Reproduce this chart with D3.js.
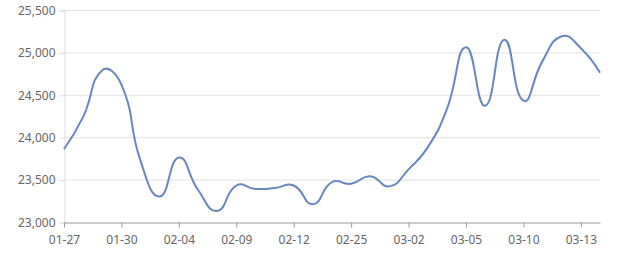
<!DOCTYPE html>
<html>
<head>
<meta charset="utf-8">
<script src="https://cdn.jsdelivr.net/npm/d3@7"></script>
<style>
  body { margin: 0; background: #fff; }
  text { font-family: "Noto Sans", "DejaVu Sans", sans-serif; }
</style>
</head>
<body>
<svg id="chart" width="640" height="270"></svg>
<script>
// dates (every third one is labelled)
var dates = ["01-27", "01-28", "01-29", "01-30", "02-01", "02-03", "02-04", "02-05", "02-08",
    "02-09", "02-10", "02-11", "02-12", "02-22", "02-23", "02-25", "02-26", "02-27",
    "03-02", "03-03", "03-04", "03-05", "03-06", "03-08", "03-10", "03-11", "03-12",
    "03-13", "03-14"];
// price values
var prices = [23860, 24240, 24790, 24620, 23720, 23300, 23760, 23380, 23130,
    23430, 23390, 23400, 23430, 23210, 23470, 23450, 23540, 23420,
    23620, 23880, 24330, 25060, 24370, 25150, 24430, 24900, 25190,
    25050, 24760];
var yTicks = [23000, 23500, 24000, 24500, 25000, 25500];

var margin = {top: 10, right: 40, bottom: 48, left: 64};
var width = 640, height = 270;

var svg = d3.select("#chart");

var x = d3.scalePoint()
    .domain(dates)
    .range([margin.left, width - margin.right]);

var y = d3.scaleLinear()
    .domain([23000, 25500])
    .range([height - margin.bottom, margin.top]);

// grid lines
svg.append("g")
    .selectAll("line")
    .data(yTicks.slice(1))
    .enter().append("line")
    .attr("x1", margin.left)
    .attr("x2", width - margin.right)
    .attr("y1", d => y(d) + 0.5)
    .attr("y2", d => y(d) + 0.5)
    .attr("stroke", "#e3e3e3");

// y axis
var yAxis = svg.append("g")
    .attr("transform", "translate(" + (margin.left + 0.5) + ",0.5)")
    .call(d3.axisLeft(y).tickValues(yTicks).tickSize(5).tickPadding(4).tickFormat(d3.format(",")));
yAxis.select(".domain").attr("stroke", "#dddddd");
yAxis.selectAll(".tick line").attr("stroke", "#dddddd");
yAxis.selectAll("text").attr("fill", "#666").style("font-size", "12px");

// x axis
var xAxis = svg.append("g")
    .attr("transform", "translate(0," + (height - margin.bottom + 0.5) + ")")
    .call(d3.axisBottom(x)
        .tickValues(dates.filter((d, i) => i % 3 === 0))
        .tickSize(5).tickPadding(8).tickSizeOuter(0));
xAxis.select(".domain").attr("stroke", "#999");
xAxis.selectAll(".tick line").attr("stroke", "#999");
xAxis.selectAll("text").attr("fill", "#666").style("font-size", "12px");

// smooth line, control points computed the way echarts does it (smooth 0.5)
function smoothPath(pts, smooth) {
    var p = d3.path();
    var cps = pts.map(function (pt, i) {
        if (i === 0 || i === pts.length - 1) return {prev: pt, next: pt};
        var prev = pts[i - 1], next = pts[i + 1];
        var vx = next[0] - prev[0], vy = next[1] - prev[1];
        var d0 = Math.hypot(pt[0] - prev[0], pt[1] - prev[1]);
        var d1 = Math.hypot(next[0] - pt[0], next[1] - pt[1]);
        var r = d1 / (d0 + d1);
        return {
            next: [pt[0] + vx * smooth * r, pt[1] + vy * smooth * r],
            prev: [pt[0] - vx * smooth * (1 - r), pt[1] - vy * smooth * (1 - r)]
        };
    });
    p.moveTo(pts[0][0], pts[0][1]);
    for (var i = 1; i < pts.length; i++) {
        var a = cps[i - 1].next, b = cps[i].prev;
        p.bezierCurveTo(a[0], a[1], b[0], b[1], pts[i][0], pts[i][1]);
    }
    return p.toString();
}

var pts = dates.map((d, i) => [x(d), y(prices[i])]);

svg.append("path")
    .attr("d", smoothPath(pts, 0.5))
    .attr("fill", "none")
    .attr("stroke", "#6887bd")
    .attr("stroke-width", 2);
</script>
</body>
</html>
